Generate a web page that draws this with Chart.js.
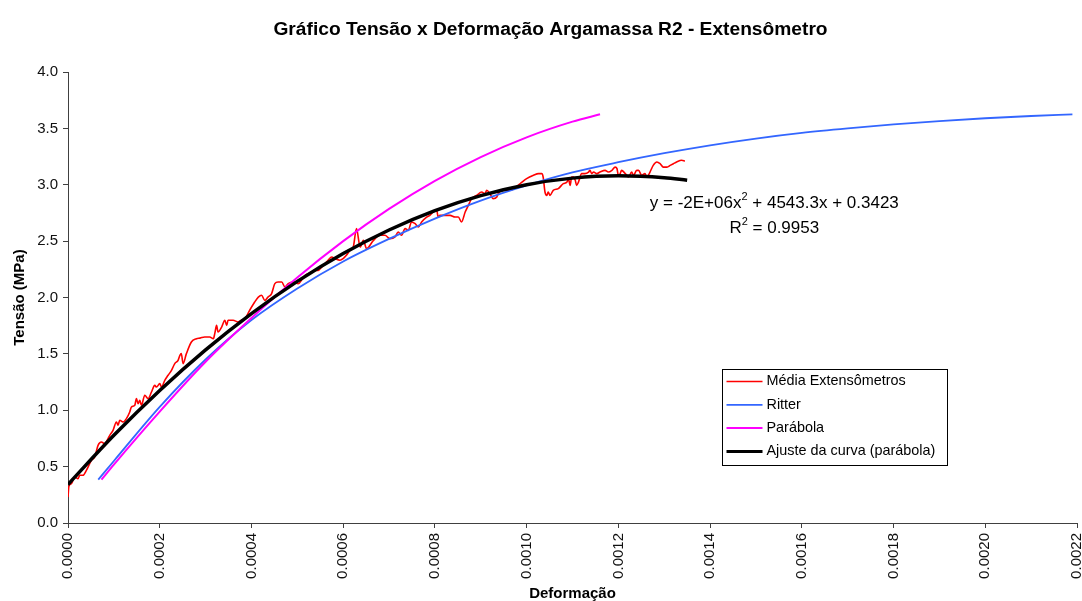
<!DOCTYPE html>
<html>
<head>
<meta charset="utf-8">
<script src="https://cdn.jsdelivr.net/npm/chart.js@4.4.1/dist/chart.umd.min.js"></script>
<style>
  html, body { margin: 0; padding: 0; background: #fff; }
  #grafico { display: block; }
</style>
</head>
<body>
<canvas id="grafico" width="1082" height="601"></canvas>
<script>
// Média dos extensômetros (deformação, tensão em MPa)
const mediaDeformacao = [
  0, 0.000002, 0.0000074, 0.0000146, 0.0000218, 0.0000255, 0.0000327, 0.00004, 0.0000511, 0.0000583,
  0.0000655, 0.0000729, 0.0000801, 0.0000873, 0.000091, 0.0000982, 0.0001056, 0.0001091, 0.0001128, 0.00012,
  0.0001274, 0.0001346, 0.0001383, 0.0001456, 0.0001492, 0.0001528, 0.0001565, 0.0001601, 0.0001674, 0.0001746,
  0.000182, 0.0001892, 0.0001929, 0.0002001, 0.0002038, 0.000211, 0.0002182, 0.0002256, 0.0002328, 0.00024,
  0.000244, 0.000247, 0.000251, 0.000258, 0.000269, 0.00028, 0.000288, 0.000298, 0.000309, 0.000317,
  0.00032, 0.000324, 0.000327, 0.000335, 0.000342, 0.000346, 0.000349, 0.00036, 0.000371, 0.000378,
  0.000386, 0.000396, 0.000407, 0.000415, 0.000422, 0.000429, 0.000436, 0.000444, 0.000451, 0.000458,
  0.000466, 0.000473, 0.00048, 0.000491, 0.000502, 0.000509, 0.000517, 0.000524, 0.000531, 0.000538,
  0.000546, 0.000553, 0.00056, 0.000567, 0.000575, 0.000582, 0.000593, 0.0006, 0.000607, 0.000615,
  0.000622, 0.000629, 0.000637, 0.000644, 0.000651, 0.000666, 0.00068, 0.000691, 0.000702, 0.000713,
  0.00072, 0.000727, 0.000735, 0.000742, 0.000749, 0.000757, 0.000764, 0.000771, 0.000782, 0.000789,
  0.000796, 0.000804, 0.000807, 0.000811, 0.000822, 0.000833, 0.000844, 0.000851, 0.000858, 0.000866,
  0.000873, 0.00088, 0.000891, 0.000902, 0.000909, 0.000913, 0.00092, 0.000927, 0.000935, 0.000938,
  0.000949, 0.000964, 0.000986, 0.001, 0.001015, 0.001026, 0.001033, 0.001036, 0.00104, 0.001044,
  0.001047, 0.001051, 0.001058, 0.001069, 0.00108, 0.001088, 0.001091, 0.001095, 0.001098, 0.001102,
  0.001106, 0.001109, 0.001113, 0.00112, 0.001127, 0.001135, 0.001138, 0.001142, 0.001146, 0.001153,
  0.00116, 0.001171, 0.001178, 0.001186, 0.001193, 0.001197, 0.0012, 0.001204, 0.001207, 0.001215,
  0.001222, 0.001229, 0.001233, 0.00124, 0.001244, 0.001251, 0.001258, 0.001262, 0.001269, 0.001276,
  0.001284, 0.001291, 0.001298, 0.001306, 0.001313, 0.00132, 0.001327, 0.001338, 0.001345
];
const mediaTensao = [
  0.23, 0.325, 0.349, 0.408, 0.394, 0.423, 0.423, 0.467, 0.556, 0.585,
  0.689, 0.718, 0.704, 0.749, 0.778, 0.822, 0.896, 0.867, 0.911, 0.896,
  0.926, 0.985, 1.029, 1.044, 1.103, 1.059, 1.088, 1.044, 1.133, 1.103,
  1.162, 1.221, 1.206, 1.236, 1.206, 1.266, 1.31, 1.354, 1.414, 1.443,
  1.487, 1.502, 1.414, 1.5, 1.605, 1.635, 1.64, 1.65, 1.65, 1.635,
  1.68, 1.753, 1.694, 1.738, 1.798, 1.753, 1.798, 1.798, 1.783, 1.798,
  1.813, 1.886, 1.96, 2.004, 2.02, 1.975, 2.004, 2.035, 2.123, 2.137,
  2.137, 2.093, 2.123, 2.137, 2.123, 2.153, 2.197, 2.212, 2.226, 2.241,
  2.241, 2.27, 2.3, 2.33, 2.36, 2.345, 2.33, 2.345, 2.374, 2.419,
  2.448, 2.611, 2.448, 2.507, 2.434, 2.507, 2.552, 2.552, 2.522, 2.537,
  2.581, 2.552, 2.611, 2.596, 2.67, 2.655, 2.625, 2.67, 2.714, 2.729,
  2.758, 2.773, 2.714, 2.729, 2.729, 2.729, 2.714, 2.714, 2.67, 2.758,
  2.818, 2.877, 2.906, 2.936, 2.921, 2.951, 2.921, 2.877, 2.891, 2.921,
  2.951, 2.951, 3.01, 3.054, 3.084, 3.099, 3.099, 3.069, 2.936, 2.906,
  2.936, 2.906, 2.951, 2.966, 3.01, 3.024, 3.054, 2.995, 3.069, 3.069,
  3.04, 2.995, 3.024, 3.099, 3.099, 3.113, 3.128, 3.099, 3.113, 3.099,
  3.113, 3.128, 3.113, 3.128, 3.157, 3.143, 3.084, 3.099, 3.128, 3.099,
  3.069, 3.113, 3.084, 3.128, 3.128, 3.084, 3.099, 3.069, 3.113, 3.172,
  3.202, 3.187, 3.157, 3.157, 3.172, 3.187, 3.202, 3.217, 3.21
];

// Modelo de Ritter
const ritterDeformacao = [
  0.000066, 0.0001, 0.0002, 0.0003, 0.0004, 0.0005, 0.0006, 0.0007, 0.0008, 0.0009,
  0.001, 0.0011, 0.0012, 0.0013, 0.0014, 0.0015, 0.0016, 0.0017, 0.0018, 0.0019,
  0.002, 0.0021, 0.00219
];
const ritterTensao = [
  0.385, 0.55, 1.03, 1.45, 1.8, 2.08, 2.32, 2.52, 2.7, 2.86,
  2.995, 3.11, 3.2, 3.28, 3.35, 3.41, 3.46, 3.5, 3.535, 3.565,
  3.59, 3.61, 3.625
];

// Modelo da parábola
const parabolaDeformacao = [
  0.000073, 0.0001, 0.0002, 0.0003, 0.0004, 0.0005, 0.0006, 0.0007, 0.0008, 0.0009,
  0.001, 0.0011, 0.00116
];
const parabolaTensao = [
  0.385, 0.518, 0.988, 1.43, 1.818, 2.177, 2.5, 2.786, 3.035, 3.246,
  3.421, 3.56, 3.625
];

// Linha de tendência polinomial (2a ordem) sobre a média
const ajusteDeformacao = [
  0, 0.0001, 0.0002, 0.0003, 0.0004, 0.0005, 0.0006, 0.0007, 0.0008, 0.0009,
  0.001, 0.0011, 0.0012, 0.0013, 0.00135
];
const ajusteTensao = [
  0.342, 0.778, 1.176, 1.536, 1.858, 2.143, 2.39, 2.599, 2.771, 2.904,
  3.001, 3.059, 3.08, 3.063, 3.04
];

const xTicks = [0, 0.0002, 0.0004, 0.0006, 0.0008, 0.001, 0.0012, 0.0014, 0.0016, 0.0018, 0.002, 0.0022];
const yTicks = [0, 0.5, 1, 1.5, 2, 2.5, 3, 3.5, 4];

const equacao = [['y = -2E+06x', false], ['2', true], [' + 4543.3x + 0.3423', false]];
const coefR2 = [['R', false], ['2', true], [' = 0.9953', false]];

const FONT = "'Liberation Sans', Arial, sans-serif";
const EIXO = '#404040';

const pontos = (xs, ys) => xs.map((x, i) => ({ x: x, y: ys[i] }));

// texto com partes sobrescritas, centrado em cx
function escreve(ctx, partes, cx, cy, tam) {
  const fonte = s => (s ? Math.round(tam * 0.62) : tam) + 'px ' + FONT;
  let total = 0;
  partes.forEach(([t, s]) => { ctx.font = fonte(s); total += ctx.measureText(t).width; });
  let x = cx - total / 2;
  partes.forEach(([t, s]) => {
    ctx.font = fonte(s);
    ctx.fillText(t, x, s ? cy - tam * 0.38 : cy);
    x += ctx.measureText(t).width;
  });
}

const equacaoPlugin = {
  id: 'equacao',
  afterDatasetsDraw(chart) {
    const { ctx, scales } = chart;
    const cx = scales.x.getPixelForValue(0.00154);
    const cy = scales.y.getPixelForValue(2.835);
    ctx.save();
    ctx.fillStyle = '#000';
    ctx.textBaseline = 'middle';
    ctx.textAlign = 'left';
    escreve(ctx, equacao, cx, cy, 17);
    escreve(ctx, coefR2, cx, cy + 25, 17);
    ctx.restore();
  }
};

const legendaPlugin = {
  id: 'legendaCaixa',
  afterDraw(chart) {
    const ctx = chart.ctx;
    const x0 = 722.5, y0 = 369.5, w = 225, h = 96;
    ctx.save();
    ctx.fillStyle = '#fff';
    ctx.fillRect(x0, y0, w, h);
    ctx.strokeStyle = '#000';
    ctx.lineWidth = 1;
    ctx.strokeRect(x0, y0, w, h);
    ctx.font = '14.4px ' + FONT;
    ctx.textBaseline = 'middle';
    chart.data.datasets.forEach((ds, i) => {
      const y = y0 + 12 + i * 23.3;
      ctx.strokeStyle = ds.borderColor;
      ctx.lineWidth = Math.min(ds.borderWidth, 3);
      ctx.beginPath();
      ctx.moveTo(x0 + 4, y);
      ctx.lineTo(x0 + 40, y);
      ctx.stroke();
      ctx.fillStyle = '#000';
      ctx.fillText(ds.label, x0 + 44, y);
    });
    ctx.restore();
  }
};

const ctx = document.getElementById('grafico').getContext('2d');
new Chart(ctx, {
  type: 'line',
  data: {
    datasets: [
      {
        label: 'Média Extensômetros',
        data: pontos(mediaDeformacao, mediaTensao),
        borderColor: '#ff0000', borderWidth: 1.6,
        cubicInterpolationMode: 'monotone', order: 4
      },
      {
        label: 'Ritter',
        data: pontos(ritterDeformacao, ritterTensao),
        borderColor: '#3366ff', borderWidth: 1.8,
        cubicInterpolationMode: 'monotone', order: 3
      },
      {
        label: 'Parábola',
        data: pontos(parabolaDeformacao, parabolaTensao),
        borderColor: '#ff00ff', borderWidth: 2,
        cubicInterpolationMode: 'monotone', order: 2
      },
      {
        label: 'Ajuste da curva (parábola)',
        data: pontos(ajusteDeformacao, ajusteTensao),
        borderColor: '#000000', borderWidth: 3.5,
        cubicInterpolationMode: 'monotone', order: 1
      }
    ]
  },
  options: {
    responsive: false,
    animation: false,
    elements: { point: { radius: 0 } },
    // a margem esquerda desloca o título para o centro da página
    layout: { padding: { left: 24, right: 5, top: 0, bottom: 0 } },
    plugins: {
      legend: { display: false },
      tooltip: { enabled: false },
      title: {
        display: true,
        text: 'Gráfico Tensão x Deformação Argamassa R2 - Extensômetro',
        color: '#000',
        font: { family: FONT, size: 19.2, weight: 'bold', lineHeight: 1.2 },
        padding: { top: 18, bottom: 31 }
      }
    },
    scales: {
      x: {
        type: 'linear',
        min: 0,
        max: 0.0022,
        afterBuildTicks: s => { s.ticks = xTicks.map(v => ({ value: v })); },
        afterFit: s => { s.height = 78; s.paddingLeft = 0; s.paddingRight = 0; },
        ticks: {
          minRotation: 90, maxRotation: 90, autoSkip: false, padding: 5,
          color: '#111', font: { family: FONT, size: 15 },
          callback: v => v.toFixed(4)
        },
        grid: { drawOnChartArea: false, tickLength: 5, color: EIXO },
        border: { color: EIXO },
        title: {
          display: true, text: 'Deformação', color: '#000',
          font: { family: FONT, size: 15, weight: 'bold', lineHeight: 1 },
          padding: { top: 0, bottom: 0 }
        }
      },
      y: {
        min: 0,
        max: 4,
        afterBuildTicks: s => { s.ticks = yTicks.map(v => ({ value: v })); },
        afterFit: s => { s.width = 44; s.paddingTop = 0; s.paddingBottom = 0; },
        ticks: {
          padding: 5, color: '#111', font: { family: FONT, size: 15 },
          callback: v => v.toFixed(1)
        },
        grid: { drawOnChartArea: false, tickLength: 5, color: EIXO },
        border: { color: EIXO },
        title: {
          display: true, text: 'Tensão (MPa)', color: '#000',
          font: { family: FONT, size: 15, weight: 'bold', lineHeight: 1 },
          padding: { top: -11.5, bottom: 0 }
        }
      }
    }
  },
  plugins: [equacaoPlugin, legendaPlugin]
});
</script>
</body>
</html>
